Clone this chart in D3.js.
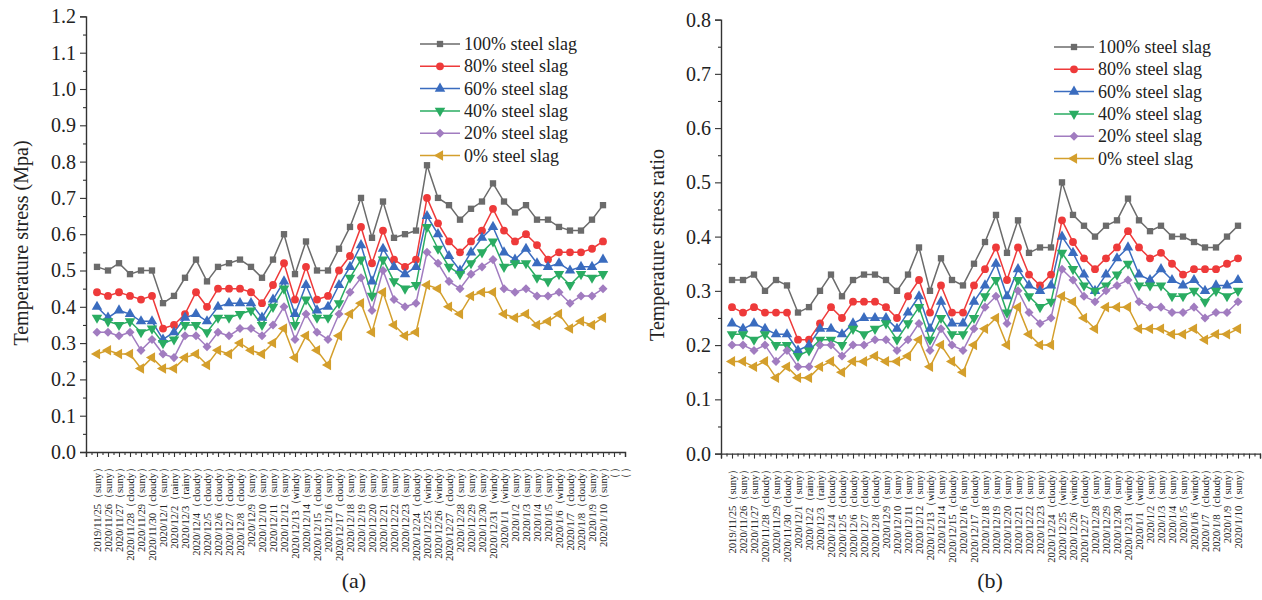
<!DOCTYPE html>
<html>
<head>
<meta charset="utf-8">
<script src="https://cdn.jsdelivr.net/npm/d3@7"></script>
<style>
  html, body { margin: 0; padding: 0; background: #fff; }
  svg { display: block; }
  svg text { font-family: "Liberation Serif", "Times New Roman", "DejaVu Serif", serif !important; fill: #222; }
</style>
</head>
<body>
<svg id="chart" width="1262" height="600"></svg>
<script>
// ---------- DATA ----------
const categories = [
  "2019/11/25（suny）","2020/11/26（suny）","2020/11/27（suny）","2020/11/28（cloudy）",
  "2020/11/29（suny）","2020/11/30（cloudy）","2020/12/1（suny）","2020/12/2（rainy）",
  "2020/12/3（rainy）","2020/12/4（cloudy）","2020/12/5（cloudy）","2020/12/6（cloudy）",
  "2020/12/7（cloudy）","2020/12/8（cloudy）","2020/12/9（suny）","2020/12/10（suny）",
  "2020/12/11（suny）","2020/12/12（suny）","2020/12/13（windy）","2020/12/14（suny）",
  "2020/12/15（cloudy）","2020/12/16（suny）","2020/12/17（cloudy）","2020/12/18（suny）",
  "2020/12/19（suny）","2020/12/20（suny）","2020/12/21（suny）","2020/12/22（suny）",
  "2020/12/23（suny）","2020/12/24（cloudy）","2020/12/25（windy）","2020/12/26（windy）",
  "2020/12/27（cloudy）","2020/12/28（suny）","2020/12/29（suny）","2020/12/30（suny）",
  "2020/12/31（windy）","2020/1/1（windy）","2020/1/2（suny）","2020/1/3（suny）",
  "2020/1/4（suny）","2020/1/5（suny）","2020/1/6（windy）","2020/1/7（cloudy）",
  "2020/1/8（cloudy）","2020/1/9（suny）","2020/1/10（suny）"
];
const extraTickLabels = ["（）", "（）"];

const seriesNames = ["100% steel slag","80% steel slag","60% steel slag","40% steel slag","20% steel slag","0% steel slag"];

// (a) Temperature stress (MPa)
const stress100 = [0.51,0.50,0.52,0.49,0.50,0.50,0.41,0.43,0.48,0.53,0.47,0.51,0.52,0.53,0.51,0.48,0.53,0.60,0.49,0.58,0.50,0.50,0.56,0.62,0.70,0.59,0.69,0.59,0.60,0.61,0.79,0.70,0.68,0.64,0.67,0.69,0.74,0.69,0.66,0.68,0.64,0.64,0.62,0.61,0.61,0.64,0.68];
const stress80  = [0.44,0.43,0.44,0.43,0.42,0.43,0.34,0.35,0.38,0.44,0.40,0.45,0.45,0.45,0.44,0.41,0.46,0.52,0.42,0.51,0.42,0.43,0.50,0.54,0.62,0.52,0.61,0.53,0.51,0.53,0.70,0.63,0.58,0.55,0.58,0.61,0.67,0.61,0.58,0.60,0.57,0.53,0.55,0.55,0.55,0.56,0.58];
const stress60  = [0.40,0.37,0.39,0.38,0.36,0.36,0.31,0.33,0.37,0.38,0.36,0.40,0.41,0.41,0.41,0.37,0.42,0.47,0.38,0.46,0.39,0.40,0.46,0.51,0.57,0.47,0.56,0.51,0.49,0.51,0.65,0.60,0.54,0.50,0.55,0.59,0.62,0.55,0.53,0.56,0.52,0.51,0.52,0.50,0.51,0.51,0.53];
const stress40  = [0.37,0.36,0.35,0.36,0.33,0.34,0.30,0.31,0.35,0.35,0.33,0.37,0.37,0.38,0.39,0.35,0.40,0.45,0.35,0.42,0.37,0.37,0.41,0.48,0.53,0.43,0.53,0.47,0.45,0.46,0.62,0.56,0.51,0.49,0.52,0.55,0.58,0.51,0.52,0.52,0.48,0.47,0.49,0.46,0.49,0.48,0.49];
const stress20  = [0.33,0.33,0.32,0.33,0.28,0.31,0.27,0.26,0.32,0.32,0.29,0.33,0.32,0.34,0.34,0.32,0.35,0.40,0.31,0.38,0.33,0.31,0.38,0.44,0.48,0.39,0.50,0.42,0.40,0.41,0.55,0.52,0.47,0.45,0.49,0.51,0.53,0.45,0.44,0.45,0.43,0.43,0.44,0.41,0.43,0.43,0.45];
const stress0   = [0.27,0.28,0.27,0.27,0.23,0.26,0.23,0.23,0.26,0.27,0.24,0.28,0.27,0.30,0.28,0.27,0.30,0.34,0.26,0.32,0.28,0.24,0.32,0.38,0.41,0.33,0.44,0.35,0.32,0.33,0.46,0.45,0.40,0.38,0.43,0.44,0.44,0.38,0.37,0.38,0.35,0.36,0.38,0.34,0.36,0.35,0.37];

// (b) Temperature stress ratio
const ratio100 = [0.32,0.32,0.33,0.30,0.32,0.31,0.26,0.27,0.30,0.33,0.29,0.32,0.33,0.33,0.32,0.30,0.33,0.38,0.30,0.36,0.32,0.31,0.35,0.39,0.44,0.37,0.43,0.37,0.38,0.38,0.50,0.44,0.42,0.40,0.42,0.43,0.47,0.43,0.41,0.42,0.40,0.40,0.39,0.38,0.38,0.40,0.42];
const ratio80  = [0.27,0.26,0.27,0.26,0.26,0.26,0.21,0.21,0.24,0.27,0.25,0.28,0.28,0.28,0.27,0.25,0.29,0.32,0.26,0.31,0.26,0.26,0.31,0.34,0.38,0.32,0.38,0.33,0.31,0.33,0.43,0.39,0.36,0.34,0.36,0.38,0.41,0.38,0.36,0.37,0.35,0.33,0.34,0.34,0.34,0.35,0.36];
const ratio60  = [0.24,0.23,0.24,0.23,0.22,0.22,0.19,0.20,0.23,0.23,0.22,0.24,0.25,0.25,0.25,0.23,0.26,0.29,0.23,0.28,0.24,0.24,0.28,0.31,0.35,0.29,0.34,0.31,0.30,0.31,0.40,0.37,0.33,0.30,0.33,0.36,0.38,0.33,0.32,0.34,0.32,0.31,0.32,0.30,0.31,0.31,0.32];
const ratio40  = [0.22,0.22,0.21,0.22,0.20,0.20,0.18,0.19,0.21,0.21,0.20,0.23,0.22,0.23,0.24,0.21,0.24,0.27,0.21,0.25,0.22,0.22,0.25,0.29,0.32,0.26,0.32,0.29,0.27,0.28,0.37,0.34,0.31,0.30,0.31,0.33,0.35,0.31,0.31,0.31,0.29,0.29,0.30,0.28,0.30,0.29,0.30];
const ratio20  = [0.20,0.20,0.19,0.20,0.17,0.19,0.16,0.16,0.20,0.20,0.18,0.20,0.20,0.21,0.21,0.19,0.21,0.24,0.19,0.23,0.20,0.19,0.23,0.27,0.29,0.24,0.30,0.26,0.24,0.25,0.34,0.32,0.29,0.28,0.30,0.31,0.32,0.28,0.27,0.27,0.26,0.26,0.27,0.25,0.26,0.26,0.28];
const ratio0   = [0.17,0.17,0.16,0.17,0.14,0.16,0.14,0.14,0.16,0.17,0.15,0.17,0.17,0.18,0.17,0.17,0.18,0.21,0.16,0.20,0.17,0.15,0.20,0.23,0.25,0.20,0.27,0.22,0.20,0.20,0.29,0.28,0.25,0.23,0.27,0.27,0.27,0.23,0.23,0.23,0.22,0.22,0.23,0.21,0.22,0.22,0.23];

const yTicksA = [0.0,0.1,0.2,0.3,0.4,0.5,0.6,0.7,0.8,0.9,1.0,1.1,1.2];
const yTicksB = [0.0,0.1,0.2,0.3,0.4,0.5,0.6,0.7,0.8];

// ---------- STYLE ----------
const FONT = "'Liberation Serif', 'Times New Roman', 'DejaVu Serif', serif";
const colors  = ["#6b6b6b","#ee3a3a","#3a6cbf","#2aac62","#a17cc0","#d49f2c"];
const symbols = [d3.symbolSquare, d3.symbolCircle, d3.symbolTriangle, "down", d3.symbolDiamond, "left"];
const symSize = [40, 48, 48, 48, 44, 48];

function markerPath(k) {
  const s = symbols[k];
  if (s === "down" || s === "left") return d3.symbol(d3.symbolTriangle, symSize[k])();
  if (s === d3.symbolDiamond) return d3.symbol(d3.symbolDiamond2, 52)();
  return d3.symbol(s, symSize[k])();
}
function markerRotate(k) {
  if (symbols[k] === "down") return 180;
  if (symbols[k] === "left") return -90;
  return 0;
}

const svg = d3.select("#chart");

function panel(opt) {
  const g = svg.append("g");
  const nCat = categories.length + extraTickLabels.length; // 49
  const x = d3.scaleLinear().domain([0, nCat]).range([opt.x0, opt.x1]);
  const y = d3.scaleLinear().domain([0, opt.yMax]).range([opt.y0, opt.y1]);

  // x axis: major ticks at categories, minor at halves
  const allLabels = categories.concat(opt.showExtra ? extraTickLabels : []);
  const majorX = d3.range(0, nCat + 1);
  const minorX = d3.range(0.5, nCat, 1);
  const xAxisMinor = d3.axisBottom(x).tickValues(minorX).tickSize(3).tickFormat("");
  const xAxis = d3.axisBottom(x).tickValues(majorX).tickSize(5).tickFormat("");
  g.append("g").attr("transform", `translate(0,${opt.y0})`).call(xAxisMinor)
    .call(s => s.select(".domain").remove())
    .selectAll("line").attr("stroke", "#333").attr("stroke-width", 1.1);
  g.append("g").attr("transform", `translate(0,${opt.y0})`).call(xAxis)
    .call(s => s.select(".domain").attr("stroke", "#333").attr("stroke-width", 1.4))
    .selectAll("line").attr("stroke", "#333").attr("stroke-width", 1.1);

  // x tick labels (rotated)
  g.append("g").selectAll("text").data(allLabels).join("text")
    .attr("transform", (d, i) => `translate(${x(i + 1) + 3.5},${opt.y0 + 10}) rotate(-90)`)
    .attr("text-anchor", "end")
    .attr("font-family", FONT)
    .attr("font-size", 10.6)
    .attr("fill", "#333")
    .text(d => d);

  // y axis
  const minorY = d3.range(0.05, opt.yMax, 0.1);
  g.append("g").attr("transform", `translate(${opt.x0},0)`)
    .call(d3.axisLeft(y).tickValues(minorY).tickSize(3).tickFormat(""))
    .call(s => s.select(".domain").remove())
    .selectAll("line").attr("stroke", "#333").attr("stroke-width", 1.1);
  const ya = g.append("g").attr("transform", `translate(${opt.x0},0)`)
    .call(d3.axisLeft(y).tickValues(opt.yTicks).tickSize(6).tickPadding(4).tickFormat(d3.format(".1f")));
  ya.attr("font-family", FONT);
  ya.select(".domain").attr("stroke", "#333").attr("stroke-width", 1.4);
  ya.selectAll("line").attr("stroke", "#333").attr("stroke-width", 1.1);
  ya.selectAll("text").attr("font-size", 20).attr("font-family", FONT).attr("fill", "#222");

  // y title
  g.append("text")
    .attr("transform", `translate(${opt.titleX},${opt.titleY}) rotate(-90)`)
    .attr("text-anchor", "middle")
    .attr("font-family", FONT)
    .attr("font-size", 20)
    .text(opt.yTitle);

  // series
  const line = d3.line().x((d, i) => x(i + 1)).y(d => y(d));
  opt.series.forEach((vals, k) => {
    g.append("path").datum(vals)
      .attr("fill", "none").attr("stroke", colors[k]).attr("stroke-width", 1.5)
      .attr("d", line);
  });
  opt.series.forEach((vals, k) => {
    g.append("g").selectAll("path").data(vals).join("path")
      .attr("d", markerPath(k))
      .attr("transform", (d, i) => `translate(${x(i + 1)},${y(d)}) rotate(${markerRotate(k)})`)
      .attr("fill", colors[k]);
  });

  // legend
  const lg = g.append("g");
  seriesNames.forEach((name, k) => {
    const yy = opt.legY + k * 22.3;
    lg.append("line").attr("x1", opt.legX).attr("x2", opt.legX + 40)
      .attr("y1", yy).attr("y2", yy).attr("stroke", colors[k]).attr("stroke-width", 1.5);
    lg.append("path").attr("d", markerPath(k))
      .attr("transform", `translate(${opt.legX + 20},${yy}) rotate(${markerRotate(k)})`)
      .attr("fill", colors[k]);
    lg.append("text").attr("x", opt.legX + 44).attr("y", yy + 6)
      .attr("font-family", FONT)
      .attr("font-size", 18).text(name);
  });

  // panel label
  g.append("text").attr("x", opt.labX).attr("y", 588)
    .attr("text-anchor", "middle").attr("font-family", FONT).attr("font-size", 22).text(opt.label);
}

panel({
  x0: 86, x1: 625, y0: 452, y1: 16.4, yMax: 1.2, yTicks: yTicksA,
  yTitle: "Temperature stress (Mpa)", titleX: 28, titleY: 243, showExtra: true,
  series: [stress100, stress80, stress60, stress40, stress20, stress0],
  legX: 420, legY: 44, label: "(a)", labX: 354
});
panel({
  x0: 721, x1: 1260, y0: 453.6, y1: 19.6, yMax: 0.8, yTicks: yTicksB,
  yTitle: "Temperature stress ratio", titleX: 664, titleY: 245, showExtra: false,
  series: [ratio100, ratio80, ratio60, ratio40, ratio20, ratio0],
  legX: 1054, legY: 47, label: "(b)", labX: 990
});
</script>
</body>
</html>
